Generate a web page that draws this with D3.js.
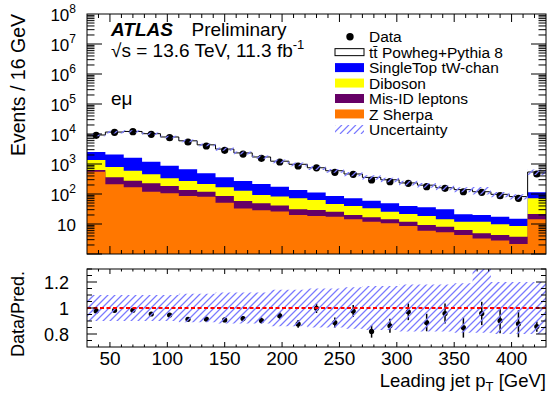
<!DOCTYPE html>
<html><head><meta charset="utf-8">
<script src="https://cdn.jsdelivr.net/npm/d3@7"></script>
<style>
body{margin:0;background:#fff}
text{font-family:"Liberation Sans",Arial,Helvetica,sans-serif;fill:#000}
</style>
</head><body>
<svg id="c" width="551" height="395"></svg>
<script>
// ---------------- data ----------------
const binEdges = [30,46,62,78,94,110,126,142,158,174,190,206,222,238,254,270,286,302,318,334,350,366,382,398,414,430];
const dataCounts = [9060,11400,11940,9770,7530,5410,3980,2860,2150,1550,1166,858,747,529,454,293,257,227,175,155,119,114,88,72,464];
const ttbar     = [6760,9530,10540,9050,7080,5260,3860,2790,2070,1500,1064,842,636,510,393,298,249,194,161,131,119,99,80,67,428];
const singleTop = [1150,1280,1020,740,544,395,275,193,142,122,94,64,49,39,32,26,23,18.3,17.5,16.6,9.1,8.1,7.7,6.4,42];
const diboson   = [728,431,321,227,149,135,96,81,71,44,41,41,34,21,20,16.7,11.4,9.6,9.2,6.2,5.6,7.0,5.5,4.8,50];
const misID     = [77,151,110,108,80,50,38,34.5,25,19.7,15,10.9,10.8,8.2,5.7,4.8,3.8,3.3,3.3,2.8,2.0,1.6,1.5,1.6,7.2];
const zSherpa   = [554,212,167,119,105,86,81,51,33,29,26,20,18.5,17.5,14.3,11.9,10.5,8.6,6.0,5.3,4.3,3.3,2.8,2.15,14.3];
const uncUp     = [0.10,0.10,0.10,0.10,0.10,0.11,0.11,0.12,0.12,0.12,0.14,0.14,0.15,0.15,0.16,0.17,0.17,0.18,0.18,0.18,0.19,0.45,0.20,0.20,0.20];
const uncDown   = [0.10,0.10,0.10,0.10,0.10,0.11,0.11,0.12,0.12,0.12,0.14,0.14,0.15,0.15,0.16,0.17,0.17,0.18,0.18,0.18,0.19,0.19,0.20,0.20,0.20];
const xTickLabels = [50,100,150,200,250,300,350,400];
const yTopExponents = [1,2,3,4,5,6,7,8];
const ratioTickLabels = [0.8,1,1.2];
const legendLabels = ["Data","tt\u0304 Powheg+Pythia 8","SingleTop tW-chan","Diboson","Mis-ID leptons","Z Sherpa","Uncertainty"];
const colors = {single:"#0000ff", dib:"#ffff00", misid:"#660066", z:"#ff7700", hatch:"#7a7aff"};

// ---------------- setup ----------------
const svg = d3.select("#c");
const W = {l:87, r:546, t:14, b:254};
const R = {t:269, b:347};
const x = d3.scaleLinear().domain([30,430]).range([W.l,W.r]);
const y = d3.scaleLog().domain([1,1e8]).range([W.b,W.t]);
const yr = d3.scaleLinear().domain([0.7,1.3]).range([R.b,R.t]);

const defs = svg.append("defs");
defs.append("clipPath").attr("id","clipTop").append("rect")
  .attr("x",W.l).attr("y",W.t).attr("width",W.r-W.l).attr("height",W.b-W.t);
defs.append("clipPath").attr("id","clipRat").append("rect")
  .attr("x",W.l).attr("y",R.t).attr("width",W.r-W.l).attr("height",R.b-R.t);

// hatch: diagonal lines clipped by a shape
function hatch(parent, id, shapeD, x0, x1, y0, y1){
  defs.append("clipPath").attr("id",id).append("path").attr("d",shapeD);
  const h = y1 - y0;
  const g = parent.append("g").attr("clip-path",`url(#${id})`);
  let d = "";
  for(let k = x0 - h - 7; k <= x1 + 7; k += 7){
    d += `M${k},${y1}L${k+h},${y0}`;
  }
  g.append("path").attr("d",d).attr("fill","none").attr("stroke",colors.hatch).attr("stroke-width",1.3);
}

const n = dataCounts.length;
const cumZ = zSherpa.slice();
const cumM = cumZ.map((v,i)=>v+misID[i]);
const cumD = cumM.map((v,i)=>v+diboson[i]);
const cumS = cumD.map((v,i)=>v+singleTop[i]);
const total = cumS.map((v,i)=>v+ttbar[i]);

function stepPts(vals){
  const p = vals.map((v,i)=>({x:binEdges[i], v}));
  p.push({x:binEdges[n], v:vals[n-1]});
  return p;
}
const areaLog = d3.area().curve(d3.curveStepAfter).x(d=>x(d.x)).y0(W.b).y1(d=>y(d.v));
const lineLog = d3.line().curve(d3.curveStepAfter).x(d=>x(d.x)).y(d=>y(d.v));

// ---------------- top panel ----------------
const gTop = svg.append("g").attr("clip-path","url(#clipTop)");
[[cumS,colors.single],[cumD,colors.dib],[cumM,colors.misid],[cumZ,colors.z]].forEach(([vals,c])=>{
  gTop.append("path").attr("d",areaLog(stepPts(vals))).attr("fill",c);
});
gTop.append("path").attr("d",lineLog(stepPts(total))).attr("fill","none").attr("stroke","#000").attr("stroke-width",1);

const centers = d3.range(n).map(i=>(binEdges[i]+binEdges[i+1])/2);
gTop.selectAll("line.err").data(d3.range(n)).join("line")
  .attr("x1",i=>x(centers[i])).attr("x2",i=>x(centers[i]))
  .attr("y1",i=>y(dataCounts[i]+Math.sqrt(dataCounts[i]))).attr("y2",i=>y(dataCounts[i]-Math.sqrt(dataCounts[i])))
  .attr("stroke","#000").attr("stroke-width",1.5);
gTop.selectAll("circle").data(d3.range(n)).join("circle")
  .attr("cx",i=>x(centers[i])).attr("cy",i=>y(dataCounts[i])).attr("r",3.6).attr("fill","#000");

const bandTop = d3.area().curve(d3.curveStepAfter).x(d=>x(d.x)).y0(d=>y(d.lo)).y1(d=>y(d.hi));
const bandPts = total.map((t,i)=>({x:binEdges[i], lo:t*(1-uncDown[i]), hi:t*(1+uncUp[i])}));
bandPts.push({x:binEdges[n], lo:bandPts[n-1].lo, hi:bandPts[n-1].hi});
hatch(gTop, "hTop", bandTop(bandPts), W.l, W.r, W.t, W.b);

// ---------------- ratio panel ----------------
const gR = svg.append("g").attr("clip-path","url(#clipRat)");
const bandR = d3.area().curve(d3.curveStepAfter).x(d=>x(d.x)).y0(d=>yr(d.lo)).y1(d=>yr(d.hi));
const rb = uncUp.map((u,i)=>({x:binEdges[i], lo:1-uncDown[i], hi:1+u}));
rb.push({x:binEdges[n], lo:rb[n-1].lo, hi:rb[n-1].hi});
const ratio = dataCounts.map((d,i)=>d/total[i]);
const rerr = dataCounts.map((d,i)=>Math.sqrt(d)/total[i]);
gR.selectAll("line.rerr").data(d3.range(n)).join("line")
  .attr("x1",i=>x(centers[i])).attr("x2",i=>x(centers[i]))
  .attr("y1",i=>yr(ratio[i]+rerr[i])).attr("y2",i=>yr(ratio[i]-rerr[i]))
  .attr("stroke","#000").attr("stroke-width",1.5);
gR.selectAll("circle").data(d3.range(n)).join("circle")
  .attr("cx",i=>x(centers[i])).attr("cy",i=>yr(ratio[i])).attr("r",2.6).attr("fill","#000");
hatch(gR, "hRat", bandR(rb), W.l, W.r, R.t-2, R.b+2);
gR.append("line").attr("x1",W.l).attr("x2",W.r).attr("y1",yr(1)).attr("y2",yr(1))
  .attr("stroke","#ff0000").attr("stroke-width",2.2).attr("stroke-dasharray","4,2.5");

// ---------------- frames & ticks ----------------
const ax = svg.append("g").attr("stroke","#000").attr("stroke-width",1);
function tick(x1,y1,x2,y2){ ax.append("line").attr("x1",x1).attr("y1",y1).attr("x2",x2).attr("y2",y2); }
ax.append("rect").attr("x",W.l).attr("y",W.t).attr("width",W.r-W.l).attr("height",W.b-W.t).attr("fill","none");
ax.append("rect").attr("x",W.l).attr("y",R.t).attr("width",W.r-W.l).attr("height",R.b-R.t).attr("fill","none");

d3.range(40,430,10).forEach(v=>{
  const major = v%50===0;
  const X = x(v);
  tick(X,W.b,X,W.b-(major?8:4)); tick(X,W.t,X,W.t+(major?8:4));
  tick(X,R.b,X,R.b-(major?5:2.5)); tick(X,R.t,X,R.t+(major?5:2.5));
});
for(let e=0;e<8;e++){
  for(let k=1;k<10;k++){
    const v=k*Math.pow(10,e); const Y=y(v); const L = k===1?15:7.5;
    if(Y<W.t-0.1) continue;
    tick(W.l,Y,W.l+L,Y); tick(W.r,Y,W.r-L,Y);
  }
}
d3.range(0.75,1.3001,0.05).forEach(v=>{
  const vv=Math.round(v*100)/100;
  const major = Math.abs(vv*10-Math.round(vv*10))<1e-6 && Math.round(vv*10)%2===0;
  const Y=yr(vv); const L = major?10:5;
  tick(W.l,Y,W.l+L,Y); tick(W.r,Y,W.r-L,Y);
});

// ---------------- labels ----------------
const yl = svg.append("g").attr("font-size","17px").attr("text-anchor","end");
yTopExponents.forEach(e=>{
  const Y=y(Math.pow(10,e));
  if(e===1){
    yl.append("text").attr("x",76).attr("y",Y+6.5).text("10");
  } else {
    const t=yl.append("text").attr("x",76).attr("y",Y+6.5);
    t.append("tspan").text("10");
    t.append("tspan").attr("font-size","12px").attr("dy",-8).text(e);
  }
});
svg.append("g").attr("font-size","18px").attr("text-anchor","end")
  .selectAll("text").data(ratioTickLabels).join("text")
  .attr("x",69).attr("y",d=>yr(d)+6.5).text(d=>d);
svg.append("g").attr("font-size","19px").attr("text-anchor","middle")
  .selectAll("text").data(xTickLabels).join("text")
  .attr("x",d=>x(d)).attr("y",365).text(d=>d);

svg.append("text").attr("transform","translate(25,14) rotate(-90)").attr("text-anchor","end")
  .attr("font-size","19.5px").text("Events / 16 GeV");
svg.append("text").attr("transform","translate(23.5,271) rotate(-90)").attr("text-anchor","end")
  .attr("font-size","18px").text("Data/Pred.");
const xt = svg.append("text").attr("x",546).attr("y",387).attr("text-anchor","end").attr("font-size","18.5px");
xt.append("tspan").text("Leading jet p");
xt.append("tspan").attr("font-size","13px").attr("dy",4).text("T");
xt.append("tspan").attr("dy",-4).text(" [GeV]");

svg.append("text").attr("x",111).attr("y",36).attr("font-size","19px").attr("font-weight","bold")
  .attr("font-style","italic").text("ATLAS");
svg.append("text").attr("x",191.5).attr("y",36).attr("font-size","19px").text("Preliminary");
const ls = svg.append("text").attr("x",111).attr("y",57).attr("font-size","19px");
ls.append("tspan").text("\u221As = 13.6 TeV, 11.3 fb");
ls.append("tspan").attr("font-size","13px").attr("dy",-8).text("-1");
svg.append("text").attr("x",111).attr("y",105).attr("font-size","19px").text("e\u03bc");

// ---------------- legend ----------------
const lg = svg.append("g");
const rowY = d3.range(legendLabels.length).map(i=>36.7+i*15.45);
lg.selectAll("text").data(legendLabels).join("text")
  .attr("x",369).attr("y",(d,i)=>rowY[i]+5.6).attr("font-size","15.5px").text(d=>d);
lg.append("circle").attr("cx",350).attr("cy",rowY[0]).attr("r",3.7).attr("fill","#000");
lg.append("rect").attr("x",335).attr("y",rowY[1]-3.5).attr("width",29).attr("height",7)
  .attr("fill","#fff").attr("stroke","#000").attr("stroke-width",1);
[colors.single,colors.dib,colors.misid,colors.z].forEach((c,j)=>{
  lg.append("rect").attr("x",335).attr("y",rowY[j+2]-4.5).attr("width",29).attr("height",9).attr("fill",c);
});
const legH = `M335,${rowY[6]-4.5}h29v9h-29Z`;
hatch(lg, "hLeg", legH, 335, 364, rowY[6]-4.5, rowY[6]+4.5);
</script>
</body></html>
